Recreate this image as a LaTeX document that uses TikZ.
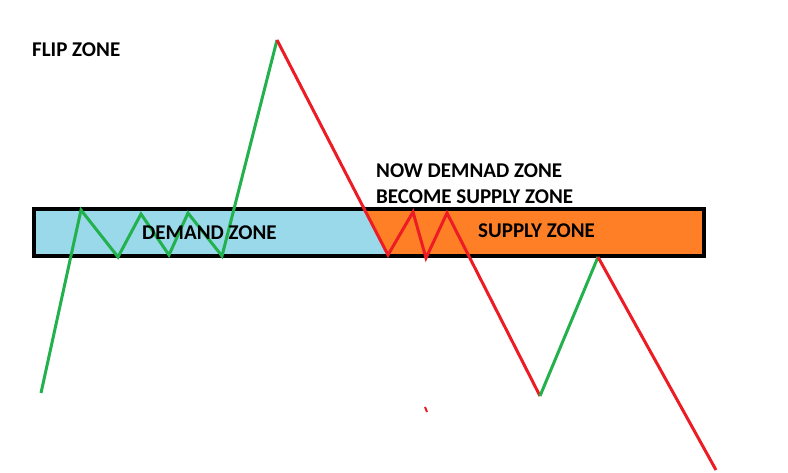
\documentclass[tikz,border=0pt]{standalone}
\usepackage{fontspec}
\setmainfont{Carlito}
\definecolor{pgreen}{HTML}{22B14C}
\definecolor{pred}{HTML}{ED1C24}
\definecolor{porange}{HTML}{FF7F27}
\definecolor{pblue}{HTML}{99D9EA}
\begin{document}
\begin{tikzpicture}[x=1pt,y=-1pt,
  up/.style={draw=pgreen,line width=3pt,line join=miter},
  down/.style={draw=pred,line width=3pt,line join=miter},
  lbl/.style={anchor=base west,inner sep=0pt,font=\fontsize{21}{23}\selectfont\bfseries}]
\useasboundingbox (0,0) rectangle (788,472);
% zone fills
\fill[pblue] (34,209) rectangle (704,256);
\fill[porange] (364,209) -- (704,209) -- (704,256) -- (388,256) -- cycle;
\draw[line width=3.5pt] (34,209) rectangle (704,256);
% price path points
\coordinate (g0) at (41,393);
\coordinate (g1) at (81,210);
\coordinate (g2) at (118,257);
\coordinate (g3) at (141,214);
\coordinate (g4) at (169,255);
\coordinate (g5) at (188,213);
\coordinate (g6) at (222,256);
\coordinate (top) at (277,40);
\coordinate (r1) at (388,255);
\coordinate (r2) at (413,212);
\coordinate (r3) at (426,258);
\coordinate (r4) at (447,213);
\coordinate (low) at (540,396);
\coordinate (peak) at (598,257);
\coordinate (end) at (716,470);
\draw[up] (g0) -- (g1) -- (g2) -- (g3) -- (g4) -- (g5) -- (g6) -- (top);
\draw[down] (top) -- (r1) -- (r2) -- (r3) -- (r4) -- (low);
\draw[up] (low) -- (peak);
\draw[down] (peak) -- (end);
% small red mark
\coordinate (m1) at (425,407);
\coordinate (m2) at (427,412);
\draw[pred,line width=2pt] (m1) -- (m2);
% labels
\node[lbl] (flip) at (32,56) {FLIP ZONE};
\node[lbl] (now) at (376,177) {NOW DEMNAD ZONE};
\node[lbl] (become) at (376,203) {BECOME SUPPLY ZONE};
\node[lbl] (dz) at (142,239) {DEMAND ZONE};
\node[lbl] (sz) at (478,237) {SUPPLY ZONE};
\end{tikzpicture}
\end{document}
